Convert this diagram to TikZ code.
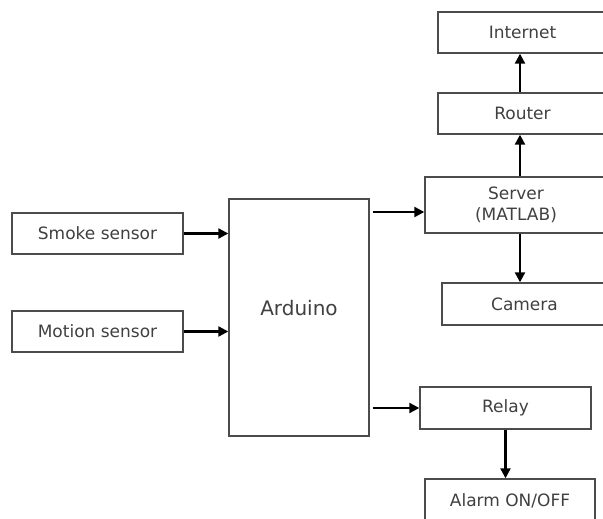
\documentclass[tikz,border=0pt]{standalone}
\usepackage{fontspec}
\setmainfont{DejaVu Sans}
\usepackage{xcolor}
\usetikzlibrary{shapes,arrows,arrows.meta,positioning}

\definecolor{boxline}{gray}{0.3}
\definecolor{boxtext}{gray}{0.25}

\begin{document}
\begin{tikzpicture}[
    x=1pt, y=-1pt,
    block/.style={
        draw=boxline,
        line width=1.4pt,
        text=boxtext,
        font=\fontsize{17}{21}\selectfont,
        inner sep=0pt,
        align=center
    },
    link/.style={
        line width=2.2pt,
        -{Triangle[length=10pt,width=10pt]}
    }
]
    \clip (0,0) rectangle (603,519);
    \useasboundingbox (0,0) rectangle (603,519);

    % sensors
    \node[
        block,
        minimum width=171pt,
        minimum height=41pt
    ] (smoke) at (97.5,233.5) {Smoke sensor};

    \node[
        block,
        minimum width=171pt,
        minimum height=41pt
    ] (motion) at (97.5,331.5) {Motion sensor};

    % controller
    \node[
        block,
        minimum width=140pt,
        minimum height=237pt,
        label={[text=boxtext, font=\fontsize{20}{24}\selectfont, yshift=9.5pt]center:Arduino}
    ] (ard) at (299,317.5) {};

    % network side
    \node[
        block,
        minimum width=169pt,
        minimum height=41pt
    ] (inet) at (522.5,32.5) {Internet};

    \node[
        block,
        minimum width=169pt,
        minimum height=41pt
    ] (rtr) at (522.5,113.5) {Router};

    \node[
        block,
        minimum width=182pt,
        minimum height=56pt
    ] (srv) at (516,205) {Server\\(MATLAB)};

    \node[
        block,
        minimum width=165pt,
        minimum height=42pt
    ] (cam) at (524.5,304) {Camera};

    % alarm side
    \node[
        block,
        minimum width=171pt,
        minimum height=42pt
    ] (rly) at (505.5,408) {Relay};

    \node[
        block,
        minimum width=170pt,
        minimum height=44pt
    ] (alarm) at (510,501) {Alarm ON/OFF};

    \coordinate (srvin) at (0,212);
    \coordinate (spine) at (520,0);

    \draw[link] (smoke.east) -- (smoke.east -| ard.west);
    \draw[link] (motion.east) -- (motion.east -| ard.west);
    \draw[link, shorten <=3pt] (ard.east |- srvin) -- (srv.west |- srvin);
    \draw[link, shorten <=3pt] (ard.east |- rly.west) -- (rly.west);
    \draw[link] (srv.north -| spine) -- (rtr.south -| spine);
    \draw[link] (rtr.north -| spine) -- (inet.south -| spine);
    \draw[link] (srv.south -| spine) -- (cam.north -| spine);
    \draw[link] (rly.south) -- (alarm.north -| rly.south);
\end{tikzpicture}
\end{document}
